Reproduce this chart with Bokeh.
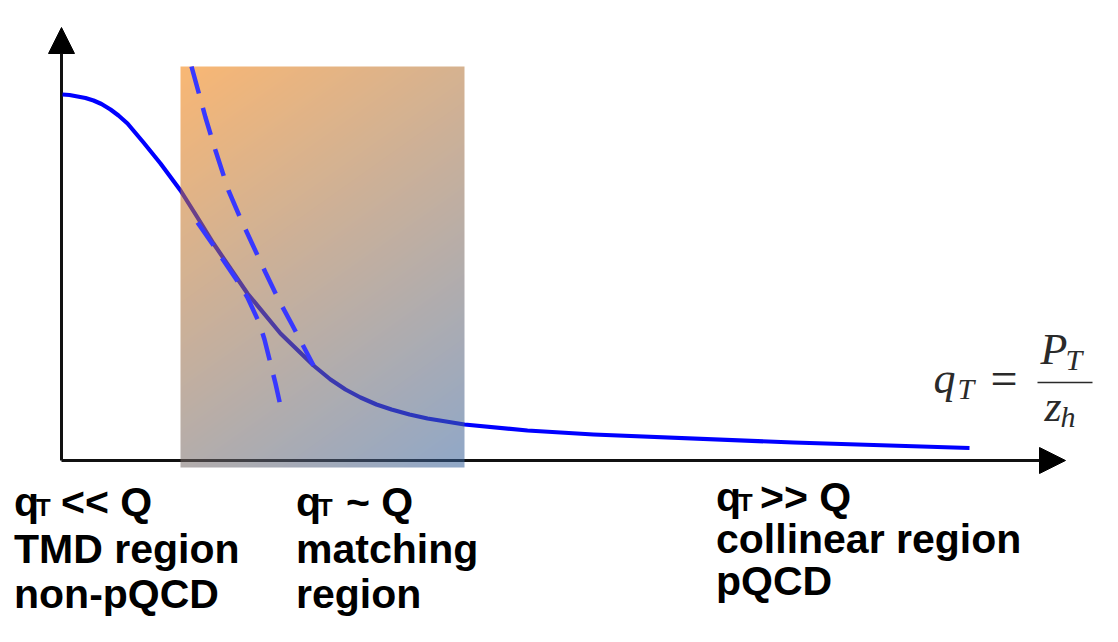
import numpy as np
from bokeh.plotting import figure
from bokeh.models import Range1d, Arrow, NormalHead
from bokeh.core.properties import value
from bokeh.embed import file_html
from bokeh.resources import INLINE

# ---------------- data ----------------
# full cross section vs q_T
qt_full = [0.01, 0.08, 0.16, 0.24, 0.32, 0.40, 0.49, 0.57, 0.66, 0.82, 0.99,
           1.19, 1.36, 1.52, 1.86, 2.19, 2.52, 2.69, 2.84, 2.99, 3.15, 3.30,
           3.48, 3.66, 4.03, 4.66, 5.32, 7.32, 9.08]
xs_full = [3.66, 3.655, 3.64, 3.625, 3.60, 3.565, 3.51, 3.45, 3.37, 3.18, 2.97,
           2.70, 2.43, 2.17, 1.67, 1.27, 0.95, 0.81, 0.71, 0.63, 0.56, 0.51,
           0.46, 0.42, 0.36, 0.30, 0.26, 0.18, 0.125]

# collinear (pQCD) approximation, dashed
qt_coll = [1.30, 1.44, 1.54, 1.67, 1.79, 1.91, 2.04, 2.17, 2.31, 2.52]
xs_coll = [3.94, 3.43, 3.10, 2.70, 2.42, 2.16, 1.88, 1.61, 1.35, 0.95]

# TMD approximation, dashed
qt_tmd = [1.36, 1.52, 1.62, 1.77, 1.86, 1.98, 2.03, 2.10, 2.14, 2.20]
xs_tmd = [2.38, 2.15, 2.00, 1.78, 1.63, 1.37, 1.21, 0.93, 0.77, 0.50]

# matching region band
match_lo, match_hi = 1.19, 4.03
match_bottom, match_top = -0.07, 3.94

# axis extents
x_axis_end = 10.04
y_axis_end = 4.33

# region labels
label_heads = ["<< Q", "~ Q", ">> Q"]
label_line2 = ["TMD region", "matching", "collinear region"]
label_line3 = ["non-pQCD", "region", "pQCD"]

# ---------------- layout / style ----------------
label_x = [-0.475, 2.345, 6.545]
label_y1 = [-0.55, -0.55, -0.50]
label_y2 = [-1.02, -1.02, -0.92]
label_y3 = [-1.47, -1.47, -1.34]
head_off = [47, 50, 44]


def base(y, size_px):
    # place the alphabetic baseline where intended for a given font size
    return y + 0.0034 * size_px


p = figure(width=1102, height=626,
           x_range=Range1d(-0.61, 10.41), y_range=Range1d(-1.66, 4.60),
           output_backend="svg", toolbar_location=None,
           x_axis_location=None, y_axis_location=None, min_border=0)
p.grid.visible = False
p.outline_line_color = None
p.background_fill_color = "white"

# axes with arrow heads (under the band)
xa = Arrow(x_start=0, y_start=0, x_end=x_axis_end, y_end=0,
           line_width=3, line_color="#111111", level="underlay",
           end=NormalHead(size=26, fill_color="black", line_color="black", line_width=1))
ya = Arrow(x_start=0, y_start=0, x_end=0, y_end=y_axis_end,
           line_width=3, line_color="#111111", level="underlay",
           end=NormalHead(size=26, fill_color="black", line_color="black", line_width=1))
p.add_layout(xa)
p.add_layout(ya)

# full curve
p.line(qt_full, xs_full, line_color="#0000ff", line_width=4.2, line_join="round")

# gradient band (semi-transparent, drawn over curve and axis)
W, H = 284, 401
u = np.arange(W)[None, :] + 0.5
v = np.arange(H)[:, None] + 0.5
t = (u * W + v * H) / (W * W + H * H)
c0 = np.array([244, 124, 2], dtype=float)
c1 = np.array([53, 96, 155], dtype=float)
img = np.empty((H, W), dtype=np.uint32)
view = img.view(dtype=np.uint8).reshape((H, W, 4))
rgb = c0[None, None, :] + t[:, :, None] * (c1 - c0)[None, None, :]
rgb = np.clip(rgb, 0, 255).astype(np.uint8)
view[:, :, 0:3] = rgb[::-1]
view[:, :, 3] = 140
p.image_rgba(image=[img], x=match_lo, y=match_bottom,
             dw=match_hi - match_lo, dh=match_top - match_bottom)

# dashed approximations
p.line(qt_coll, xs_coll, line_color="#3838ff", line_width=4.5, line_dash="28 15")
p.line(qt_tmd, xs_tmd, line_color="#3838ff", line_width=4.5, line_dash="28 15")

# region labels
bold = dict(text_font=value("Liberation Sans"), text_font_style="bold",
            text_color="black", text_baseline="alphabetic", text_align="left")
for i in range(3):
    p.text(x=[label_x[i]], y=[base(label_y1[i], 41)], text=["q"], text_font_size="41px", **bold)
    p.text(x=[label_x[i]], y=[base(label_y1[i], 24)], text=["T"], x_offset=22,
           text_font_size="24px", **bold)
    p.text(x=[label_x[i]], y=[base(label_y1[i], 41)], text=[label_heads[i]],
           x_offset=head_off[i], text_font_size="41px", **bold)
    p.text(x=[label_x[i]], y=[base(label_y2[i], 41)], text=[label_line2[i]],
           text_font_size="41px", **bold)
    p.text(x=[label_x[i]], y=[base(label_y3[i], 41)], text=[label_line3[i]],
           text_font_size="41px", **bold)

# formula q_T = P_T / z_h
serif = dict(text_font=value("Liberation Serif"), text_color="#2a2a2a",
             text_baseline="alphabetic", text_align="left")
p.text(x=[8.72], y=[base(0.67, 44)], text=["q"], text_font_size="44px",
       text_font_style="italic", **serif)
p.text(x=[8.96], y=[base(0.62, 30)], text=["T"], text_font_size="30px",
       text_font_style="italic", **serif)
p.text(x=[9.29], y=[base(0.655, 48)], text=["="], text_font_size="48px", **serif)
p.text(x=[9.79], y=[base(0.96, 44)], text=["P"], text_font_size="44px",
       text_font_style="italic", **serif)
p.text(x=[10.04], y=[base(0.91, 30)], text=["T"], text_font_size="30px",
       text_font_style="italic", **serif)
p.text(x=[9.83], y=[base(0.39, 44)], text=["z"], text_font_size="44px",
       text_font_style="italic", **serif)
p.text(x=[9.99], y=[base(0.34, 30)], text=["h"], text_font_size="30px",
       text_font_style="italic", **serif)
p.segment(x0=[9.76], y0=[0.78], x1=[10.31], y1=[0.78], line_color="#2a2a2a", line_width=1.6)

open("out.html", "w").write(file_html(p, INLINE))
